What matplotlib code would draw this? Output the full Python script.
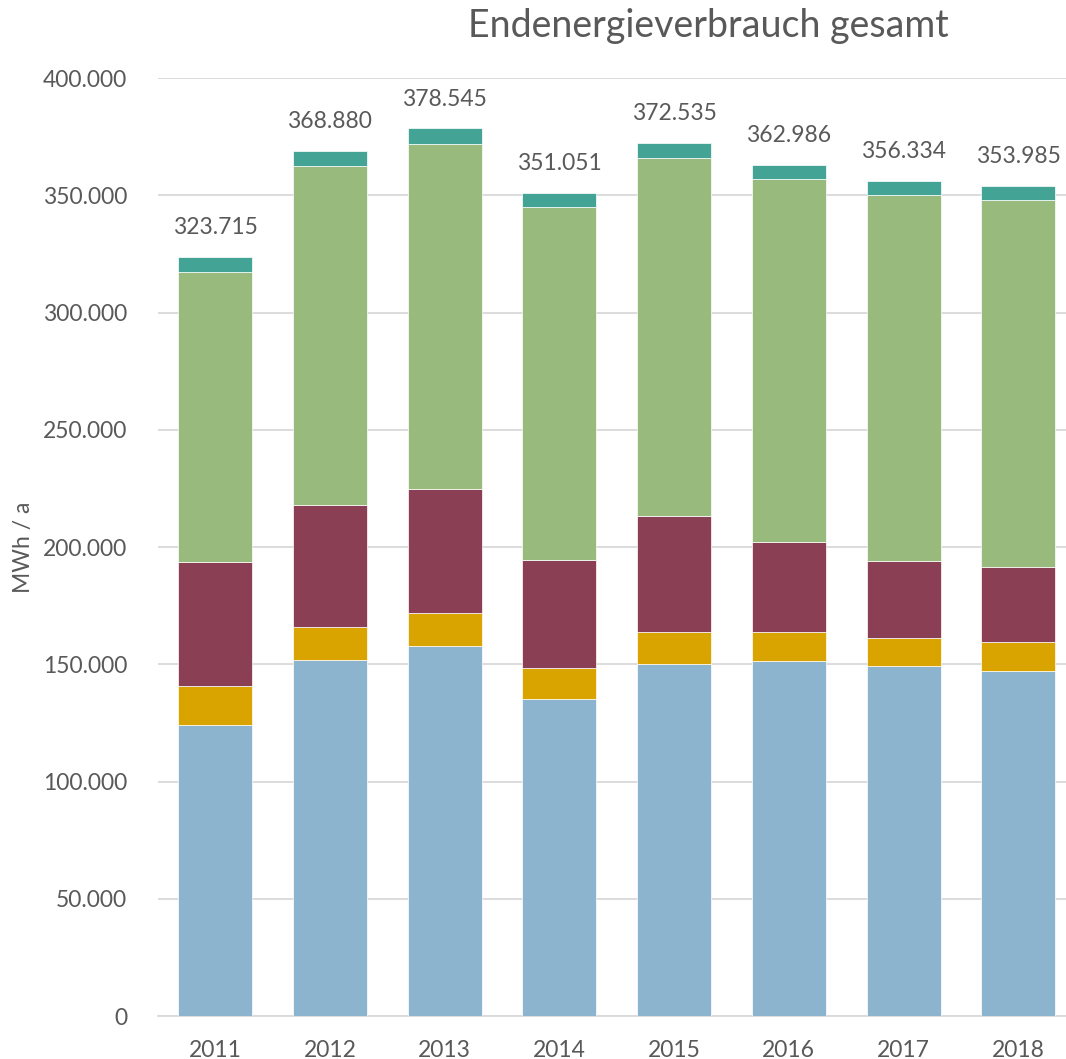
import matplotlib
matplotlib.use("Agg")
import matplotlib.pyplot as plt
from matplotlib.ticker import FuncFormatter
import numpy as np

plt.rcParams['font.family'] = ['Lato', 'DejaVu Sans']

# data (MWh / a)
years = ['2011', '2012', '2013', '2014', '2015', '2016', '2017', '2018']
blue = [123900, 152000, 157800, 135400, 150300, 151400, 149100, 147300]
orange = [17000, 14100, 14200, 12800, 13500, 12500, 12300, 12400]
maroon = [52700, 51700, 52900, 46100, 49400, 38200, 32800, 31800]
green = [123500, 144900, 147100, 150900, 152900, 154800, 156100, 156700]
teal = [6600, 6200, 6500, 5900, 6400, 6100, 6000, 5800]
totals = [323715, 368880, 378545, 351051, 372535, 362986, 356334, 353985]

series = [blue, orange, maroon, green, teal]
colors = ['#8DB4CE', '#D9A300', '#8B3F54', '#98BA7C', '#43A496']

text_col = '#595959'


def de_fmt(v, pos=None):
    return f"{v:,.0f}".replace(',', '.')


fig = plt.figure(figsize=(10.66, 10.59), dpi=100)
ax = fig.add_axes([0.148, 0.0406, 0.861, 0.8857])

x = np.arange(len(years))
bottom = np.zeros(len(years))
for vals, col in zip(series, colors):
    ax.bar(x, vals, width=0.645, bottom=bottom, color=col,
           edgecolor='white', linewidth=0.5, zorder=3)
    bottom += np.array(vals)

for xi, top, tot in zip(x, bottom, totals):
    ax.annotate(de_fmt(tot), (xi, top), xytext=(0, 13.5), textcoords='offset points',
                ha='center', va='bottom', fontsize=16.5, color=text_col)

ax.set_xlim(-0.5, len(years) - 0.5)
ax.set_ylim(0, 400000)
ax.set_yticks(np.arange(0, 400001, 50000))
ax.yaxis.set_major_formatter(FuncFormatter(de_fmt))
ax.set_xticks(x)
ax.set_xticklabels(years)
ax.tick_params(axis='both', length=0, labelsize=16.5, labelcolor=text_col)
ax.tick_params(axis='y', pad=22)
ax.tick_params(axis='x', pad=17)
ax.grid(axis='y', color='#D9D9D9', linewidth=1.3, zorder=0)
for s in ['top', 'right', 'left']:
    ax.spines[s].set_visible(False)
ax.spines['bottom'].set_color('#D9D9D9')
ax.spines['bottom'].set_linewidth(1.3)
ax.set_ylabel('MWh / a', fontsize=16.5, color=text_col)
ax.yaxis.set_label_coords(-0.135, 0.5)

fig.text(0.664, 0.975, 'Endenergieverbrauch gesamt', ha='center', va='center',
         fontsize=27, color=text_col)

fig.savefig('out.png', dpi=100)
